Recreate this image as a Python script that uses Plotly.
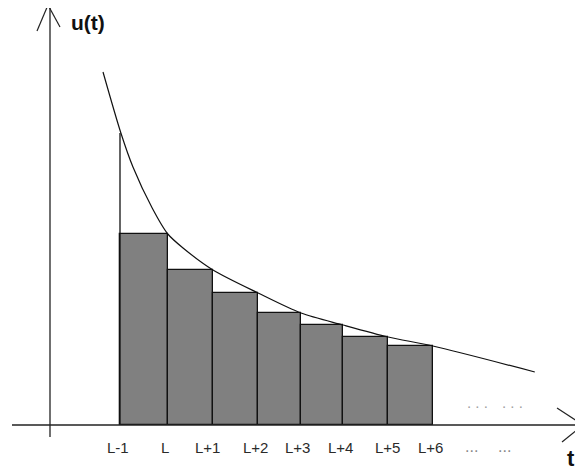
import plotly.graph_objects as go

# ---- data (t measured in steps from L-1; u in arbitrary units) ----
edge_t = [0.0, 1.07, 2.08, 3.09, 4.05, 4.99, 6.0, 7.0]          # bar edges L-1 .. L+6
bar_u = [1.91, 1.55, 1.32, 1.12, 1.00, 0.88, 0.79]              # bar heights
curve_t = [-0.38, 0.02, 0.29, 0.72, 1.07, 1.41, 2.08, 3.09, 4.05, 4.99, 6.0, 7.0, 9.28]
curve_u = [3.53, 2.92, 2.58, 2.17, 1.91, 1.77, 1.55, 1.32, 1.12, 1.00, 0.88, 0.79, 0.53]
tick_t = [-0.05, 1.0, 1.95, 3.04, 3.98, 4.94, 5.99, 6.94]
tick_text = ["L-1", "L", "L+1", "L+2", "L+3", "L+4", "L+5", "L+6"]
dots_low_t = [7.87, 8.61]
dots_high_t = [7.99, 8.77]
start_u = 2.92   # curve value at L-1

OFF = 8                   # page body margin in the browser
W, H = 583 - OFF, 470 - OFF
X0, SX = 120.0, 44.7      # page pixel of t=0, pixels per t unit
Y0, SY = 425.0, 100.0     # page pixel of u=0, pixels per u unit


def px(x):
    return (x - X0) / SX


def py(y):
    return (Y0 - y) / SY


centers = [(a + b) / 2 for a, b in zip(edge_t[:-1], edge_t[1:])]
widths = [b - a for a, b in zip(edge_t[:-1], edge_t[1:])]

fig = go.Figure()
fig.add_trace(go.Bar(
    x=centers, y=bar_u, width=widths, base=0,
    marker=dict(color="#808080", line=dict(color="#111111", width=1.3)),
    hoverinfo="skip", showlegend=False,
))
fig.add_trace(go.Scatter(
    x=curve_t, y=curve_u, mode="lines", line=dict(color="#111111", width=1.2, shape="spline", smoothing=0.8),
    hoverinfo="skip", showlegend=False,
))
fig.add_trace(go.Scatter(
    x=[edge_t[0], edge_t[0]], y=[0, start_u], mode="lines", line=dict(color="#111111", width=1.3),
    hoverinfo="skip", showlegend=False,
))

line_c = "#222222"
shapes = [
    # x axis
    dict(type="line", x0=px(12), y0=0, x1=px(583), y1=0, line=dict(color=line_c, width=1.3)),
    dict(type="line", x0=px(557), y0=py(408), x1=px(583), y1=0, line=dict(color=line_c, width=1.2)),
    dict(type="line", x0=px(562), y0=py(442), x1=px(583), y1=0, line=dict(color=line_c, width=1.2)),
    # y axis
    dict(type="line", x0=px(50), y0=py(437), x1=px(50), y1=py(5), line=dict(color=line_c, width=1.3)),
    dict(type="line", x0=px(37), y0=py(31), x1=px(48), y1=py(5), line=dict(color=line_c, width=1.2)),
    dict(type="line", x0=px(48), y0=py(5), x1=px(60), y1=py(27), line=dict(color=line_c, width=1.2)),
]
for s in shapes:
    s.update(xref="x", yref="y", layer="above")

annotations = []
for t, txt in zip(tick_t, tick_text):
    annotations.append(dict(x=t, y=py(447), text=txt, showarrow=False,
                            font=dict(family="Liberation Sans, Arial", size=15, color="#2a2a2a")))
for t in dots_low_t:
    annotations.append(dict(x=t, y=py(446), text="...", showarrow=False,
                            font=dict(family="Liberation Sans, Arial", size=16, color="#888888")))
for t in dots_high_t:
    annotations.append(dict(x=t, y=py(402), text=". . .", showarrow=False,
                            font=dict(family="Liberation Sans, Arial", size=15, color="#a0a0a0")))
annotations.append(dict(x=px(88), y=py(9), text="<b>u(t)</b>", showarrow=False, yanchor="top",
                        font=dict(family="Liberation Sans, Arial", size=21, color="#111111")))
annotations.append(dict(x=px(571), y=py(458), text="<b>t</b>", showarrow=False,
                        font=dict(family="Liberation Sans, Arial", size=22, color="#111111")))
for a in annotations:
    a.update(xref="x", yref="y")

fig.update_layout(
    width=W, height=H, autosize=False,
    margin=dict(l=0, r=0, t=0, b=0, pad=0),
    paper_bgcolor="white", plot_bgcolor="white",
    xaxis=dict(range=[px(OFF), px(583)], visible=False, fixedrange=True),
    yaxis=dict(range=[py(470), py(OFF)], visible=False, fixedrange=True),
    shapes=shapes, annotations=annotations, bargap=0,
)

fig.write_html("out.html")
